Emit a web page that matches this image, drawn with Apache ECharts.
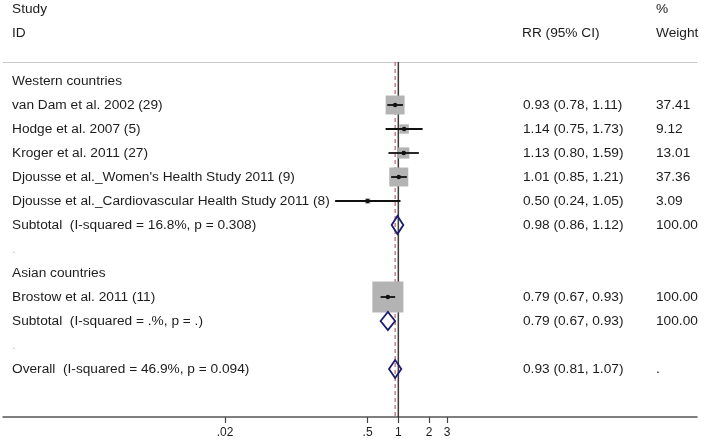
<!DOCTYPE html>
<html>
<head>
<meta charset="utf-8">
<script src="https://cdn.jsdelivr.net/npm/echarts@6/dist/echarts.min.js"></script>
<style>
  html, body { margin: 0; padding: 0; background: #fff; }
  #chart { width: 704px; height: 442px; }
</style>
</head>
<body>
<div id="chart"></div>
<script>
// Group headings and their row numbers
const GROUPS = ['Western countries', 'Asian countries'];
const GROUP_ROWS = [0, 8];

// Individual studies
const STUDIES = [
  'van Dam et al. 2002 (29)',
  'Hodge et al. 2007 (5)',
  'Kroger et al. 2011 (27)',
  "Djousse et al._Women's Health Study 2011 (9)",
  'Djousse et al._Cardiovascular Health Study 2011 (8)',
  'Brostow et al. 2011 (11)'
];
const STUDY_ROWS = [1, 2, 3, 4, 5, 9];
const STUDY_RR = [0.93, 1.14, 1.13, 1.01, 0.50, 0.79];
const STUDY_LOWER = [0.78, 0.75, 0.80, 0.85, 0.24, 0.67];
const STUDY_UPPER = [1.11, 1.73, 1.59, 1.21, 1.05, 0.93];
const STUDY_WEIGHT = [37.41, 9.12, 13.01, 37.36, 3.09, 100.00];

// Pooled estimates (diamonds)
const POOLED = [
  'Subtotal  (I-squared = 16.8%, p = 0.308)',
  'Subtotal  (I-squared = .%, p = .)',
  'Overall  (I-squared = 46.9%, p = 0.094)'
];
const POOLED_ROWS = [6, 10, 12];
const POOLED_RR = [0.98, 0.79, 0.93];
const POOLED_LOWER = [0.86, 0.67, 0.81];
const POOLED_UPPER = [1.12, 0.93, 1.07];
const POOLED_WEIGHT = ['100.00', '100.00', '.'];

// Empty spacer rows (Stata prints a faint dot)
const BLANK_ROWS = [7, 11];

// Reference lines: no effect and overall estimate
const NULL_VALUE = 1;
const OVERALL_RR = 0.93;

// x axis (log scale) ticks
const TICK_VALUES = [0.02, 0.5, 1, 2, 3];
const TICK_LABELS = ['.02', '.5', '1', '2', '3'];
const AXIS_MIN = 0.000133;
const AXIS_MAX = 848;

const FONT = '"Liberation Sans", Arial, sans-serif';
const TEXT_SIZE = 13.7;
const TEXT_COLOR = '#1c1c1c';
const BOX_MAX = 31;

const fmt = v => v.toFixed(2);

// rows of the text table
const tableRows = [];
GROUPS.forEach((g, i) => tableRows.push({ row: GROUP_ROWS[i], label: g, rr: '', w: '' }));
STUDIES.forEach((s, i) => tableRows.push({
  row: STUDY_ROWS[i], label: s,
  rr: `${fmt(STUDY_RR[i])} (${fmt(STUDY_LOWER[i])}, ${fmt(STUDY_UPPER[i])})`,
  w: fmt(STUDY_WEIGHT[i])
}));
POOLED.forEach((s, i) => tableRows.push({
  row: POOLED_ROWS[i], label: s,
  rr: `${fmt(POOLED_RR[i])} (${fmt(POOLED_LOWER[i])}, ${fmt(POOLED_UPPER[i])})`,
  w: POOLED_WEIGHT[i]
}));
BLANK_ROWS.forEach(r => tableRows.push({ row: r, label: '.', rr: '', w: '', faint: true }));

const chart = echarts.init(document.getElementById('chart'));

const headerText = (x, y, text) => ({
  type: 'text', x: x, y: y,
  style: { text: text, fill: TEXT_COLOR, font: `${TEXT_SIZE}px ${FONT}`, verticalAlign: 'middle' }
});

const option = {
  animation: false,
  backgroundColor: '#fff',
  grid: { left: 3, right: 7, top: 62, bottom: 25, outerBoundsMode: 'none' },
  xAxis: [{
    type: 'value',
    min: Math.log(AXIS_MIN),
    max: Math.log(AXIS_MAX),
    splitLine: { show: false },
    axisLine: { onZero: false, lineStyle: { color: '#555', width: 1.5 } },
    axisTick: { customValues: TICK_VALUES.map(Math.log), length: 6, lineStyle: { color: '#444', width: 1.2 } },
    axisLabel: {
      customValues: TICK_VALUES.map(Math.log),
      formatter: v => {
        const i = TICK_VALUES.findIndex(t => Math.abs(Math.log(t) - v) < 1e-6);
        return i >= 0 ? TICK_LABELS[i] : '';
      },
      margin: 10, fontSize: 12, fontFamily: FONT, color: TEXT_COLOR
    }
  }, {
    type: 'value',
    position: 'top',
    min: Math.log(AXIS_MIN),
    max: Math.log(AXIS_MAX),
    splitLine: { show: false },
    axisLine: { onZero: false, lineStyle: { color: '#c8c8c8', width: 1 } },
    axisTick: { show: false },
    axisLabel: { show: false }
  }],
  yAxis: {
    type: 'value',
    inverse: true,
    min: -19 / 24,
    max: 14,
    show: false
  },
  graphic: [
    headerText(12, 9.5, 'Study'),
    headerText(12, 33, 'ID'),
    headerText(522, 33, 'RR (95% CI)'),
    headerText(656, 9.5, '%'),
    headerText(656, 33, 'Weight')
  ],
  series: [
    {
      // vertical reference lines
      type: 'custom',
      z: 1,
      data: [[Math.log(OVERALL_RR)], [Math.log(NULL_VALUE)]],
      renderItem: (params, api) => {
        const cs = params.coordSys;
        const x = api.coord([api.value(0), 0])[0];
        const dashed = params.dataIndex === 0;
        return {
          type: 'line',
          shape: { x1: x, y1: cs.y, x2: x, y2: cs.y + cs.height },
          style: dashed
            ? { stroke: '#b0404c', lineWidth: 1, lineDash: [4, 3] }
            : { stroke: '#3a3a3a', lineWidth: 1.5 }
        };
      }
    },
    {
      // studies: weight box, CI and point estimate
      type: 'custom',
      z: 3,
      data: STUDY_RR.map((v, i) => [
        Math.log(v), STUDY_ROWS[i], Math.log(STUDY_LOWER[i]), Math.log(STUDY_UPPER[i]), STUDY_WEIGHT[i]
      ]),
      renderItem: (params, api) => {
        const y = api.coord([0, api.value(1)])[1];
        const xe = api.coord([api.value(0), 0])[0];
        const xl = api.coord([api.value(2), 0])[0];
        const xh = api.coord([api.value(3), 0])[0];
        const s = BOX_MAX * Math.sqrt(api.value(4) / 100);
        return {
          type: 'group',
          children: [
            { type: 'rect', shape: { x: xe - s / 2, y: y - s / 2, width: s, height: s }, style: { fill: '#b3b3b3' } },
            { type: 'line', shape: { x1: xl, y1: y, x2: xh, y2: y }, style: { stroke: '#111', lineWidth: 1.8 } },
            { type: 'circle', shape: { cx: xe, cy: y, r: 2.2 }, style: { fill: '#111' } }
          ]
        };
      }
    },
    {
      // pooled diamonds
      type: 'custom',
      z: 3,
      data: POOLED_RR.map((v, i) => [
        Math.log(v), POOLED_ROWS[i], Math.log(POOLED_LOWER[i]), Math.log(POOLED_UPPER[i])
      ]),
      renderItem: (params, api) => {
        const y = api.coord([0, api.value(1)])[1];
        const xe = api.coord([api.value(0), 0])[0];
        const xl = api.coord([api.value(2), 0])[0];
        const xh = api.coord([api.value(3), 0])[0];
        const h = 9;
        return {
          type: 'polygon',
          shape: { points: [[xl, y], [xe, y - h], [xh, y], [xe, y + h]] },
          style: { fill: 'none', stroke: '#1d1d6e', lineWidth: 1.8 }
        };
      }
    },
    {
      // text table
      type: 'custom',
      z: 4,
      data: tableRows.map(r => [0, r.row]),
      renderItem: (params, api) => {
        const r = tableRows[params.dataIndex];
        const y = api.coord([0, api.value(1)])[1];
        const font = `${TEXT_SIZE}px ${FONT}`;
        const color = r.faint ? '#c8c8c8' : TEXT_COLOR;
        return {
          type: 'group',
          children: [
            { type: 'text', x: 12, y: y, style: { text: r.label, fill: color, font: font, verticalAlign: 'middle' } },
            { type: 'text', x: 523, y: y, style: { text: r.rr, fill: TEXT_COLOR, font: font, verticalAlign: 'middle' } },
            { type: 'text', x: 656, y: y, style: { text: r.w, fill: TEXT_COLOR, font: font, verticalAlign: 'middle' } }
          ]
        };
      }
    }
  ]
};

chart.setOption(option);
</script>
</body>
</html>
